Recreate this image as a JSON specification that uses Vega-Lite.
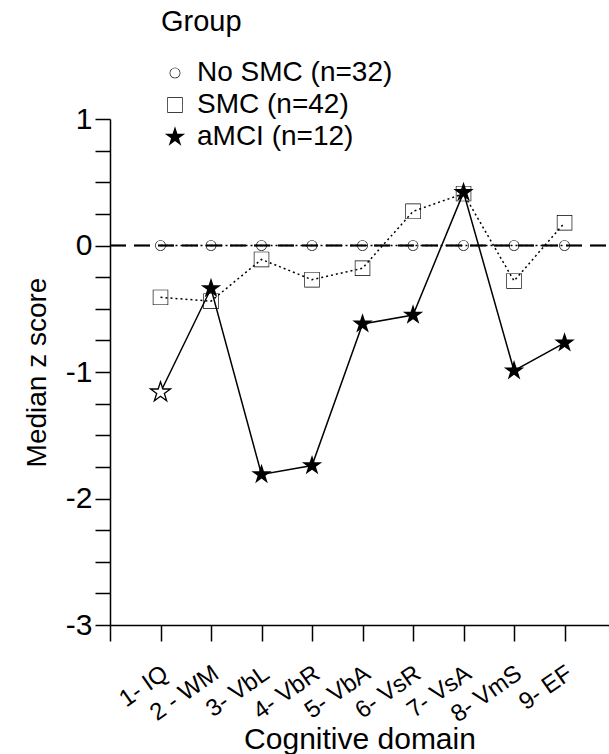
{
  "$schema": "https://vega.github.io/schema/vega-lite/v6.json",
  "width": 499,
  "height": 506,
  "autosize": {"type": "none"},
  "padding": {"left": 110, "top": 119, "right": 0, "bottom": 129},
  "background": "white",
  "config": {
    "view": {"stroke": null},
    "font": "Liberation Sans",
    "axis": {"domainColor": "black", "tickColor": "black", "labelColor": "black", "titleColor": "black", "domainWidth": 1.5, "tickWidth": 1.5, "grid": false, "titleFontWeight": "normal"},
    "legend": {"titleFontWeight": "normal", "titleColor": "black", "labelColor": "black"}
  },
  "data": {
    "values": [
      {"domain": 1, "group": "No SMC (n=32)", "z": 0},
      {"domain": 2, "group": "No SMC (n=32)", "z": 0},
      {"domain": 3, "group": "No SMC (n=32)", "z": 0},
      {"domain": 4, "group": "No SMC (n=32)", "z": 0},
      {"domain": 5, "group": "No SMC (n=32)", "z": 0},
      {"domain": 6, "group": "No SMC (n=32)", "z": 0},
      {"domain": 7, "group": "No SMC (n=32)", "z": 0},
      {"domain": 8, "group": "No SMC (n=32)", "z": 0},
      {"domain": 9, "group": "No SMC (n=32)", "z": 0},
      {"domain": 1, "group": "SMC (n=42)", "z": -0.41},
      {"domain": 2, "group": "SMC (n=42)", "z": -0.44},
      {"domain": 3, "group": "SMC (n=42)", "z": -0.11},
      {"domain": 4, "group": "SMC (n=42)", "z": -0.27},
      {"domain": 5, "group": "SMC (n=42)", "z": -0.18},
      {"domain": 6, "group": "SMC (n=42)", "z": 0.27},
      {"domain": 7, "group": "SMC (n=42)", "z": 0.41},
      {"domain": 8, "group": "SMC (n=42)", "z": -0.28},
      {"domain": 9, "group": "SMC (n=42)", "z": 0.18},
      {"domain": 1, "group": "aMCI (n=12)", "z": -1.16},
      {"domain": 2, "group": "aMCI (n=12)", "z": -0.34},
      {"domain": 3, "group": "aMCI (n=12)", "z": -1.81},
      {"domain": 4, "group": "aMCI (n=12)", "z": -1.74},
      {"domain": 5, "group": "aMCI (n=12)", "z": -0.62},
      {"domain": 6, "group": "aMCI (n=12)", "z": -0.55},
      {"domain": 7, "group": "aMCI (n=12)", "z": 0.42},
      {"domain": 8, "group": "aMCI (n=12)", "z": -0.99},
      {"domain": 9, "group": "aMCI (n=12)", "z": -0.77}
    ]
  },
  "encoding": {
    "x": {"field": "domain", "type": "quantitative", "scale": {"domain": [0, 9.88], "nice": false, "zero": false},
      "axis": {"values": [0, 1, 2, 3, 4, 5, 6, 7, 8, 9], "tickSize": 16,
        "labelExpr": "['', '1- IQ', '2 - WM', '3- VbL', '4- VbR', '5- VbA', '6- VsR', '7- VsA', '8- VmS', '9- EF'][datum.value]",
        "labelAngle": -35, "labelAlign": "right", "labelBaseline": "top", "labelFontSize": 24, "labelPadding": 20, "labelOffset": -2, "labelOverlap": false,
        "title": "Cognitive domain", "titleFontSize": 30, "titlePadding": -2}},
    "y": {"field": "z", "type": "quantitative", "scale": {"domain": [-3, 1], "nice": false, "zero": false},
      "axis": {"values": [-3, -2.75, -2.5, -2.25, -2, -1.75, -1.5, -1.25, -1, -0.75, -0.5, -0.25, 0, 0.25, 0.5, 0.75, 1],
        "labelExpr": "datum.value % 1 == 0 ? '' + datum.value : ''", "tickSize": 15, "labelFontSize": 30, "labelPadding": 3,
        "title": "Median z score", "titleFontSize": 28, "titlePadding": 14}}
  },
  "layer": [
    {
      "transform": [{"filter": "datum.group == 'aMCI (n=12)'"}],
      "mark": {"type": "line", "color": "black", "strokeWidth": 1.5}
    },
    {
      "transform": [{"filter": "datum.group != 'aMCI (n=12)'"}],
      "mark": {"type": "line", "color": "black", "strokeWidth": 1.5, "strokeDash": [2, 3]},
      "encoding": {"detail": {"field": "group", "type": "nominal"}}
    },
    {
      "transform": [{"filter": "datum.domain == 1"}],
      "mark": {"type": "rule", "color": "black", "strokeWidth": 1.5, "strokeDash": [16, 8]},
      "encoding": {"x": {"value": 0}, "x2": {"value": "width"}, "y": {"datum": 0, "type": "quantitative"}}
    },
    {
      "mark": {"type": "point", "filled": true, "color": "black", "opacity": 1, "strokeWidth": 0, "size": 460},
      "encoding": {
        "shape": {"field": "group", "type": "nominal",
          "scale": {"domain": ["No SMC (n=32)", "SMC (n=42)", "aMCI (n=12)"], "range": [
            "M0.5,0A0.5,0.5,0,1,1,-0.5,0A0.5,0.5,0,1,1,0.5,0ZM0.44,0A0.44,0.44,0,1,0,-0.44,0A0.44,0.44,0,1,0,0.44,0Z",
            "M-0.72,-0.72H0.72V0.72H-0.72ZM-0.66,-0.66V0.66H0.66V-0.66Z",
            "M0,-1L0.225,-0.309L0.951,-0.309L0.363,0.118L0.588,0.809L0,0.382L-0.588,0.809L-0.363,0.118L-0.951,-0.309L-0.225,-0.309Z"]},
          "legend": {"title": "Group", "orient": "none", "legendX": 51, "legendY": -111, "padding": 0, "titleFontSize": 29, "titlePadding": 22, "labelFontSize": 28, "labelLimit": 400, "symbolSize": 460, "symbolFillColor": "black", "symbolStrokeWidth": 0, "rowPadding": 4, "labelOffset": 8,
            "encode": {"symbols": {"update": {"fill": {"value": "black"}, "opacity": {"value": 1}}}}}}
      }
    },
    {
      "transform": [{"filter": "datum.group == 'aMCI (n=12)' && datum.domain == 1"}],
      "mark": {"type": "point", "shape": "M0,-1L0.225,-0.309L0.951,-0.309L0.363,0.118L0.588,0.809L0,0.382L-0.588,0.809L-0.363,0.118L-0.951,-0.309L-0.225,-0.309Z", "size": 440, "stroke": "black", "strokeWidth": 1.3, "fill": "white", "filled": true, "opacity": 1}
    }
  ]
}
